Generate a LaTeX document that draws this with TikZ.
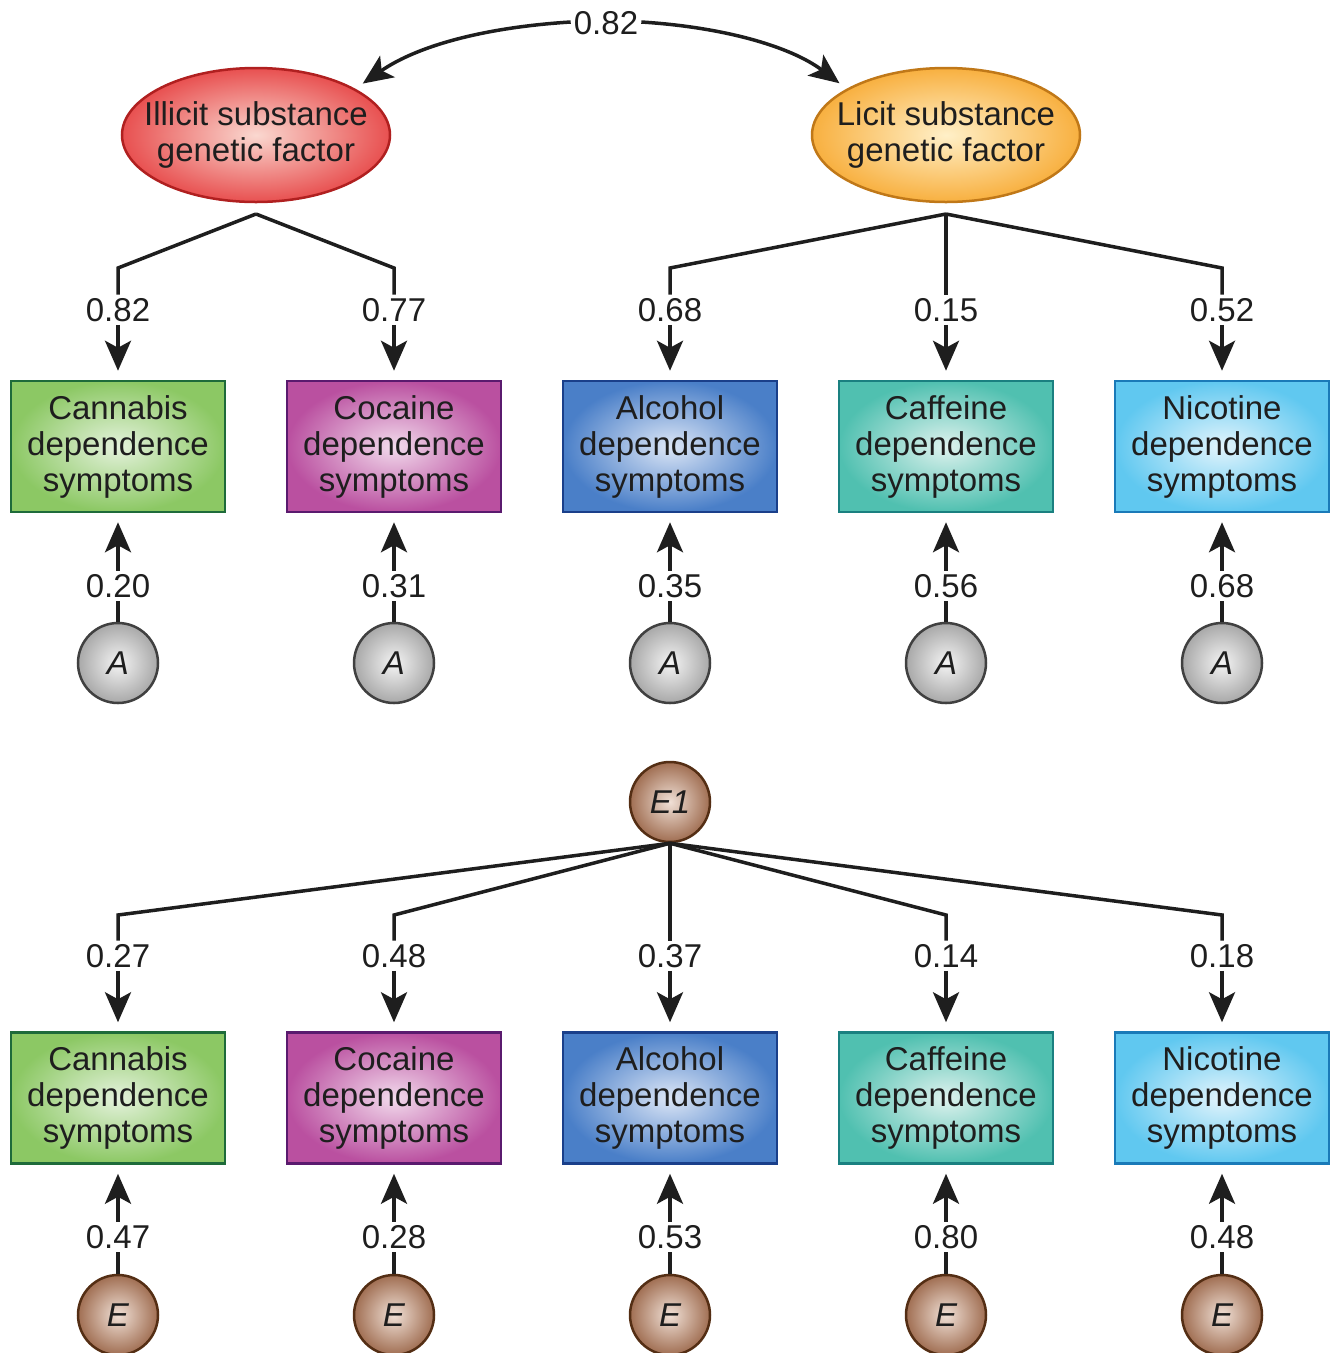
\documentclass[tikz,border=0pt]{standalone}
\usepackage{fontspec}
\setmainfont{Liberation Sans}
\usetikzlibrary{shapes.geometric,arrows.meta}
\definecolor{grnO}{RGB}{140,200,100}\definecolor{grnI}{RGB}{228,242,220}\definecolor{grnB}{RGB}{30,107,58}
\definecolor{magO}{RGB}{186,80,160}\definecolor{magI}{RGB}{242,218,236}\definecolor{magB}{RGB}{90,26,110}
\definecolor{bluO}{RGB}{74,127,200}\definecolor{bluI}{RGB}{220,230,246}\definecolor{bluB}{RGB}{26,63,138}
\definecolor{tealO}{RGB}{80,192,176}\definecolor{tealI}{RGB}{222,242,238}\definecolor{tealB}{RGB}{26,128,128}
\definecolor{skyO}{RGB}{96,200,240}\definecolor{skyI}{RGB}{226,244,252}\definecolor{skyB}{RGB}{26,122,184}
\definecolor{redO}{RGB}{232,80,80}\definecolor{redI}{RGB}{250,216,208}\definecolor{redB}{RGB}{176,32,32}
\definecolor{orgO}{RGB}{248,176,64}\definecolor{orgI}{RGB}{255,240,200}\definecolor{orgB}{RGB}{192,120,24}
\definecolor{gryO}{RGB}{168,168,168}\definecolor{gryI}{RGB}{244,244,244}\definecolor{gryB}{RGB}{64,64,64}
\definecolor{brnO}{RGB}{160,110,82}\definecolor{brnI}{RGB}{240,224,214}\definecolor{brnB}{RGB}{84,46,20}
\definecolor{ink}{RGB}{30,30,30}
\begin{document}
\begin{tikzpicture}[x=1pt,y=-1pt,
  every node/.style={font=\fontsize{33}{36}\selectfont, text=ink},
  conn/.style={line width=3.5pt, draw=ink},
  arr/.style={conn, -{Stealth[length=30pt,width=26pt,inset=7pt]}, shorten >=9pt},
  valbl/.style={inner sep=3pt, text height=24pt, text depth=0pt},
  sbox/.style={draw=#1B, line width=2.5pt, inner color=#1I, outer color=#1O, minimum width=214pt, minimum height=131pt, inner sep=0pt, align=center},
  gfac/.style={ellipse, draw=#1B, line width=2.5pt, inner color=#1I, outer color=#1O, minimum width=268pt, minimum height=134pt, inner xsep=-30pt, inner ysep=0pt, align=center},
  lat/.style={circle, draw=#1B, line width=2.5pt, inner color=#1I, outer color=#1O, minimum size=80pt, inner sep=0pt, font=\fontsize{33}{36}\selectfont\itshape}
]
\useasboundingbox (0,0) rectangle (1339,1353);

% genetic factors
\node[gfac=red] (ill) at (256,135) {Illicit substance\\genetic factor};
\node[gfac=org] (lic) at (946,135) {Licit substance\\genetic factor};
\node[valbl] (rg) at (606,22) {0.82};
\draw[arr] (rg.west) .. controls (490,27) and (420,44) .. (ill.25);
\draw[arr] (rg.east) .. controls (722,27) and (790,46) .. (lic.155);

\coordinate (apI) at (256,214);
\coordinate (apL) at (946,214);

% columns
\foreach \i/\x/\c/\nm in {1/118/grn/Cannabis,2/394/mag/Cocaine,3/670/blu/Alcohol,4/946/teal/Caffeine,5/1222/sky/Nicotine}{
  \node[sbox=\c] (b\i) at (\x,446.5) {\nm\\dependence\\symptoms};
  \node[sbox=\c] (c\i) at (\x,1098) {\nm\\dependence\\symptoms};
  \node[lat=gry] (a\i) at (\x,663) {A};
  \node[lat=brn] (e\i) at (\x,1315) {E};
  \coordinate (k\i) at (\x,268);
  \coordinate (m\i) at (\x,915);
}

\node[lat=brn] (E1) at (670,802) {E1};

% top loadings
\foreach \i/\v in {1/0.82,2/0.77,3/0.68,4/0.15,5/0.52}{
  \path (b\i.north) ++(0,-70) node[valbl] (g\i) {\v};
  \draw[arr] (g\i.south) -- (b\i.north);
}
\draw[conn] (apI) -- (k1) -- (g1.north);
\draw[conn] (apI) -- (k2) -- (g2.north);
\draw[conn] (apL) -- (k3) -- (g3.north);
\draw[conn] (apL) -- (g4.north);
\draw[conn] (apL) -- (k5) -- (g5.north);

% A loadings
\foreach \i/\v in {1/0.20,2/0.31,3/0.35,4/0.56,5/0.68}{
  \path (a\i.north) ++(0,-36) node[valbl] (h\i) {\v};
  \draw[conn] (a\i.north) -- (h\i.south);
  \draw[arr] (h\i.north) -- (b\i.south);
}

% E1 loadings
\foreach \i/\v in {1/0.27,2/0.48,3/0.37,4/0.14,5/0.18}{
  \path (c\i.north) ++(0,-75.5) node[valbl] (f\i) {\v};
  \draw[arr] (f\i.south) -- (c\i.north);
}
\draw[conn] (E1.south) -- (m1) -- (f1.north);
\draw[conn] (E1.south) -- (m2) -- (f2.north);
\draw[conn] (E1.south) -- (f3.north);
\draw[conn] (E1.south) -- (m4) -- (f4.north);
\draw[conn] (E1.south) -- (m5) -- (f5.north);

% E loadings
\foreach \i/\v in {1/0.47,2/0.28,3/0.53,4/0.80,5/0.48}{
  \path (e\i.north) ++(0,-37) node[valbl] (j\i) {\v};
  \draw[conn] (e\i.north) -- (j\i.south);
  \draw[arr] (j\i.north) -- (c\i.south);
}
\end{tikzpicture}
\end{document}
